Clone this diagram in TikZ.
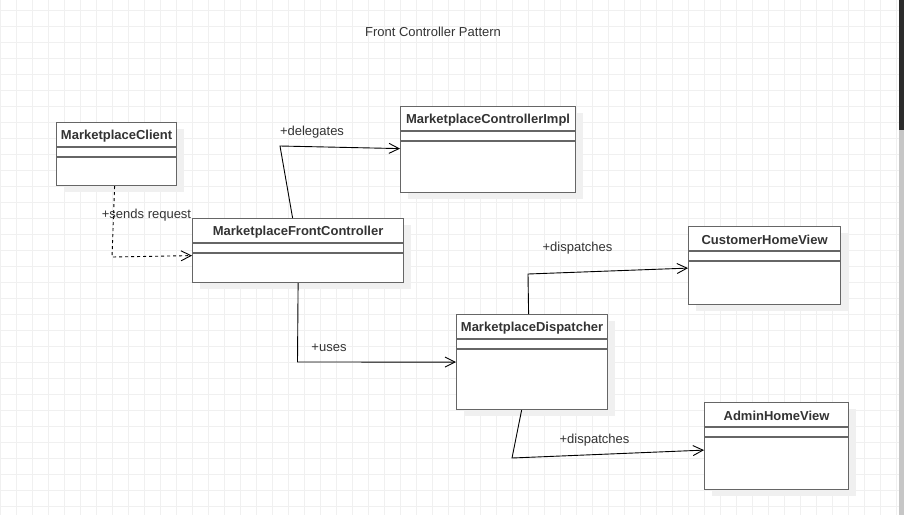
\documentclass[tikz,border=0pt]{standalone}
\usepackage{fontspec}
\setmainfont{Liberation Sans}
\usetikzlibrary{arrows.meta,shadows}

\definecolor{boxline}{HTML}{666666}
\definecolor{labeltext}{HTML}{333333}
\definecolor{gridcolor}{HTML}{F0F0F0}
\definecolor{shadowfill}{HTML}{F0F0F0}
\definecolor{scrolldark}{HTML}{2B2B2B}
\definecolor{scrolllight}{HTML}{C6C6C6}

\tikzset{
  classbox/.style={draw=boxline, line width=1.2pt, fill=white, anchor=north west, inner sep=0pt,
    drop shadow={shadow xshift=7pt, shadow yshift=-6pt, fill=shadowfill, opacity=1}},
  classname/.style={text=labeltext, font=\fontsize{13}{15}\selectfont\bfseries, inner sep=0pt, yshift=-1.5pt},
  classline/.style={draw=boxline, line width=1.2pt},
  link/.style={draw=black, line width=0.9pt, -{Straight Barb[length=10pt, width=10pt]}},
  dashedlink/.style={link, dash pattern=on 3pt off 3pt},
  linklabel/.style={text=labeltext, font=\fontsize{13}{15}\selectfont, inner sep=0pt, yshift=-1.5pt},
  gridline/.style={draw=gridcolor, line width=0.8pt}
}

\begin{document}
\begin{tikzpicture}[x=1pt, y=-1pt]
\useasboundingbox (0,0) rectangle (904,515);
\fill[white] (0,0) rectangle (904,515);

% grid
\foreach \gx in {0,16,...,896} \draw[gridline] (\gx,0) -- (\gx,515);
\foreach \gy in {10.7,26.7,...,515} \draw[gridline] (0,\gy) -- (904,\gy);

% scrollbar
\fill[scrolllight] (898.7,130) rectangle (904,515);
\fill[scrolldark] (898.7,0) rectangle (904,130);

\node[linklabel] (title) at (433,30) {Front Controller Pattern};

% classes
\foreach \name/\x/\y/\w/\h/\title in {
    client/56/122/120/63/MarketplaceClient,
    impl/400/106/175/86/MarketplaceControllerImpl,
    front/192/218/211/64/MarketplaceFrontController,
    customer/688/226/152/78/CustomerHomeView,
    disp/456/314/151/95/MarketplaceDispatcher,
    admin/704/402/144/87/AdminHomeView}
{
  \node[classbox, minimum width=\w pt, minimum height=\h pt] (\name) at (\x,\y) {};
  \node[classname] (\name-title) at ([yshift=-12.5pt]\name.north) {\title};
  \draw[classline] ([yshift=-25pt]\name.north west) -- ([yshift=-25pt]\name.north east)
                   ([yshift=-35pt]\name.north west) -- ([yshift=-35pt]\name.north east);
}

% connectors
\coordinate (sendbend) at (112,257);
\coordinate (dlgbend) at (280,146);
\coordinate (usebend) at (297.5,362);
\coordinate (custbend) at (528,274);
\coordinate (adminbend) at (512,458);

\draw[dashedlink] ([xshift=-2pt]client.south) -- (sendbend) -- ([yshift=-5pt]front.west);
\draw[link] ([xshift=-5.5pt]front.north) -- (dlgbend) -- ([yshift=1pt]impl.west);
\draw[link] (front.south) -- (usebend) -- (disp.west);
\draw[link] ([xshift=-3.5pt]disp.north) -- (custbend) -- ([yshift=-2.5pt]customer.west);
\draw[link] ([xshift=-10.5pt]disp.south) -- (adminbend) -- ([yshift=-4pt]admin.west);

\node[linklabel] (sendlabel) at (146.5,214) {+sends request};
\node[linklabel] (dlglabel) at (312,130.5) {+delegates};
\node[linklabel] (uselabel) at (329,346) {+uses};
\node[linklabel] (custlabel) at (577.5,246.5) {+dispatches};
\node[linklabel] (adminlabel) at (594.5,438.5) {+dispatches};
\end{tikzpicture}
\end{document}
